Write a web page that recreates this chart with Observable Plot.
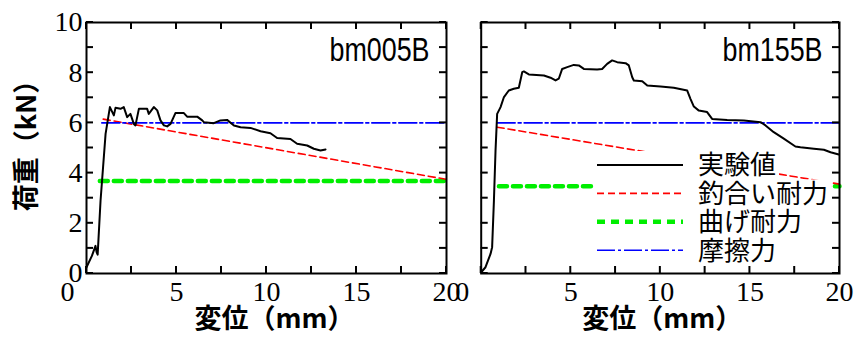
<!DOCTYPE html>
<html>
<head>
<meta charset="utf-8">
<script src="https://cdn.jsdelivr.net/npm/d3@7"></script>
<script src="https://cdn.jsdelivr.net/npm/@observablehq/plot@0.6"></script>
<style>
  body { margin: 0; background: #fff; }
  #wrap { position: relative; width: 864px; height: 340px; overflow: hidden; background: #fff; }
  #wrap svg { position: absolute; top: 0; overflow: visible; max-width: none; }
  #wrap svg.ticks { z-index: 5; pointer-events: none; }
</style>
</head>
<body>
<div id="wrap"></div>
<script>
// ---- data ----
const xTickLabels = [0, 5, 10, 15, 20];
const xMinorTicks = [0, 2.5, 5, 7.5, 10, 12.5, 15, 17.5, 20];
const yTickLabels = [0, 2, 4, 6, 8, 10];
const yMinorTicks = [0, 1, 2, 3, 4, 5, 6, 7, 8, 9, 10];
const panelNames = ["bm005B", "bm155B"];
const legendLabels = ["実験値", "釣合い耐力", "曲げ耐力", "摩擦力"];
const xTitle = "変位（mm）";
const yTitle = "荷重（kN）";

// bm005B experimental curve [displacement mm, load kN]
const expLeft = [
  [0, 0.25], [0.3, 0.7], [0.5, 1.1], [0.56, 0.85], [0.62, 0.75], [0.78, 2.9], [1.06, 5.56],
  [1.3, 6.63], [1.52, 6.3], [1.61, 6.6], [1.89, 6.56], [2.07, 6.63], [2.26, 6.23],
  [2.44, 6.36], [2.63, 5.96], [2.72, 5.9], [2.91, 6.56], [3.37, 6.56], [3.46, 6.36],
  [3.74, 6.63], [3.93, 6.5], [4.11, 6.1], [4.3, 5.9], [4.48, 5.86], [4.67, 5.96],
  [4.94, 6.39], [5.41, 6.39], [5.59, 6.25], [6.15, 6.25], [6.43, 6.1], [6.52, 6.03],
  [7.07, 5.99], [7.44, 6.1], [7.81, 6.12], [8.19, 5.9], [8.56, 5.83], [9.11, 5.8],
  [9.67, 5.67], [10.22, 5.59], [10.59, 5.4], [11.33, 5.36], [11.7, 5.17], [12.26, 5.1],
  [12.63, 4.97], [13.0, 4.9], [13.28, 4.94]
];
// bm155B experimental curve
const expRight = [
  [0, 0.05], [0.24, 0.25], [0.52, 0.78], [0.61, 1.05], [0.71, 2.9], [0.8, 4.9], [0.89, 6.36],
  [0.99, 6.5], [1.08, 6.63], [1.27, 7.03], [1.54, 7.29], [1.82, 7.36], [2.1, 7.4],
  [2.29, 8.02], [2.38, 8.05], [2.66, 7.93], [3.5, 7.89], [3.87, 7.8], [4.15, 7.69],
  [4.33, 7.76], [4.52, 8.15], [4.8, 8.22], [5.17, 8.31], [5.45, 8.29], [5.73, 8.15],
  [6.47, 8.13], [6.75, 8.15], [7.03, 8.35], [7.31, 8.49], [7.59, 8.42], [8.06, 8.38],
  [8.24, 8.29], [8.43, 7.82], [8.52, 7.69], [8.99, 7.66], [9.27, 7.49], [10.01, 7.45],
  [10.75, 7.4], [11.5, 7.29], [11.68, 6.96], [11.87, 6.65], [12.15, 6.49], [12.61, 6.43],
  [12.89, 6.16], [13.73, 6.12], [14.66, 6.1], [15.59, 6.03], [15.87, 5.9], [16.33, 5.63],
  [16.89, 5.37], [17.54, 5.06], [17.82, 5.03], [18.57, 4.97], [19.13, 4.93], [19.5, 4.83],
  [19.96, 4.74]
];
// equilibrium strength (釣合い耐力)
const eqLeft = [[0.93, 6.15], [20, 3.75]];
const eqRight = [[0.89, 5.83], [20, 3.56]];
// bending strength (曲げ耐力)
const bendLeft = [[0.74, 3.69], [20, 3.69]];
const bendRight = [[0.99, 3.48], [20, 3.48]];
// friction force (摩擦力)
const fricLeft = [[0.85, 6.0], [20, 6.0]];
const fricRight = [[0.89, 6.0], [20, 6.0]];

// ---- styles ----
const S = {
  exp:  {stroke: "#000000", strokeWidth: 2},
  eq:   {stroke: "#ff0000", strokeWidth: 1.6, strokeDasharray: "7,4"},
  bend: {stroke: "#00ee00", strokeWidth: 4.5, strokeDasharray: "8,6"},
  fric: {stroke: "#0000ff", strokeWidth: 1.6, strokeDasharray: "18,3,3,3"}
};
const legendStyles = [S.exp, S.eq, S.bend, S.fric];

const H = 340, MT = 22, MB = 67, TICK = 7;
const serif = "Liberation Serif";
const cjk = "Noto Sans CJK JP";
const sans = "Liberation Sans";
const wrap = document.getElementById("wrap");

function panel({left0, width, ml, mr, name, exp, eq, bend, fric, showY, titleDx}) {
  const marks = [
    Plot.line(bend, {x: d => d[0], y: d => d[1], ...S.bend}),
    Plot.line(eq, {x: d => d[0], y: d => d[1], ...S.eq}),
    Plot.line(fric, {x: d => d[0], y: d => d[1], ...S.fric}),
    Plot.line(exp, {x: d => d[0], y: d => d[1], ...S.exp, strokeLinejoin: "round"}),
    Plot.frame({stroke: "#000", strokeWidth: 2}),
    Plot.axisX(xTickLabels.slice(1), {anchor: "bottom", tickSize: 0, tickPadding: 8, label: null, fontSize: 28, fontFamily: serif, fill: "#000"}),
    Plot.axisX(xTickLabels.slice(0, 1), {anchor: "bottom", tickSize: 0, tickPadding: 8, label: null, dx: -19, fontSize: 28, fontFamily: serif, fill: "#000"}),
    Plot.text([name], {frameAnchor: "top-right", textAnchor: "end", lineAnchor: "top", dx: -17, dy: 14,
      fontSize: 34, fontFamily: sans, fill: "#000"}),
    Plot.text([xTitle], {frameAnchor: "bottom", textAnchor: "middle", dx: titleDx, dy: 54, fontSize: 27, fontWeight: "bold", fontFamily: cjk, fill: "#000"})
  ];
  if (showY) {
    marks.push(Plot.axisY(yTickLabels, {anchor: "left", tickSize: 0, tickPadding: 4, label: null, fontSize: 28, fontFamily: serif, fill: "#000"}));
    marks.push(Plot.text([yTitle], {frameAnchor: "left", textAnchor: "middle", dx: -59, dy: -9, rotate: -90, fontSize: 27,
      fontWeight: "bold", fontFamily: cjk, fill: "#000"}));
  }
  const svg = Plot.plot({
    width, height: H,
    marginLeft: ml, marginRight: mr, marginTop: MT, marginBottom: MB,
    x: {domain: [0, 20]},
    y: {domain: [0, 10], axis: showY ? undefined : null},
    style: {background: "transparent", color: "#000", overflow: "visible"},
    marks
  });
  svg.style.left = left0 + "px";
  wrap.appendChild(svg);

  // inward ticks: separate overlay SVG, positioned through the plot's x/y scales
  let sx = d3.scaleLinear([0, 20], [ml, width - mr]);
  let sy = d3.scaleLinear([0, 10], [H - MB, MT]);
  try {
    const px = svg.scale("x"), py = svg.scale("y");
    if (px && isFinite(px.apply(5))) sx = v => px.apply(v);
    if (py && isFinite(py.apply(5))) sy = v => py.apply(v);
  } catch (e) {}
  const x0 = sx(0), x1 = sx(20), y0 = sy(0), y1 = sy(10);
  const ov = d3.select(wrap).append("svg")
    .attr("class", "ticks")
    .attr("width", width).attr("height", H)
    .style("left", left0 + "px");
  const g = ov.append("g").attr("fill", "#000");
  for (const v of xMinorTicks) {
    const p = sx(v);
    g.append("rect").attr("x", p - 1).attr("y", y0 - TICK).attr("width", 2).attr("height", TICK);
    g.append("rect").attr("x", p - 1).attr("y", y1).attr("width", 2).attr("height", TICK);
  }
  for (const v of yMinorTicks) {
    const p = sy(v);
    g.append("rect").attr("x", x0).attr("y", p - 1).attr("width", TICK).attr("height", 2);
    g.append("rect").attr("x", x1 - TICK).attr("y", p - 1).attr("width", TICK).attr("height", 2);
  }
  return svg;
}

const left = panel({left0: 0, width: 460, ml: 86, mr: 14, name: panelNames[0], exp: expLeft, eq: eqLeft, bend: bendLeft, fric: fricLeft, showY: true, titleDx: 8});
const right = panel({left0: 460, width: 404, ml: 20.7, mr: 25, name: panelNames[1], exp: expRight, eq: eqRight, bend: bendRight, fric: fricRight, showY: false, titleDx: 2});

// condense the panel names like the reference's narrow gothic face
[left, right].forEach((svg, i) => {
  d3.select(svg).selectAll("text")
    .filter(function () { return this.textContent === panelNames[i]; })
    .attr("textLength", 100).attr("lengthAdjust", "spacingAndGlyphs");
});

// ---- legend (inside right panel) ----
const lg = d3.select(right).append("g").attr("class", "legend").attr("text-anchor", "start");
const lineX0 = 137, lineX1 = 223, textX = 238, row0 = 165, rowStep = 28.4;
legendLabels.forEach((label, i) => {
  const cy = row0 + i * rowStep;
  const row = lg.append("g");
  const rect = row.append("rect").attr("fill", "#fff");
  const st = legendStyles[i];
  row.append("line")
    .attr("x1", lineX0).attr("x2", lineX1).attr("y1", cy).attr("y2", cy)
    .attr("stroke", st.stroke).attr("stroke-width", st.strokeWidth)
    .attr("stroke-dasharray", st.strokeDasharray || null);
  const t = row.append("text")
    .attr("x", textX).attr("y", cy).attr("dy", "0.36em")
    .attr("text-anchor", "start")
    .attr("font-family", cjk).attr("font-size", 26).attr("fill", "#000")
    .text(label);
  const w = t.node().getComputedTextLength();
  rect.attr("x", lineX0 - 3).attr("y", cy - 14).attr("width", textX + w + 3 - (lineX0 - 3)).attr("height", 28);
});
</script>
</body>
</html>
